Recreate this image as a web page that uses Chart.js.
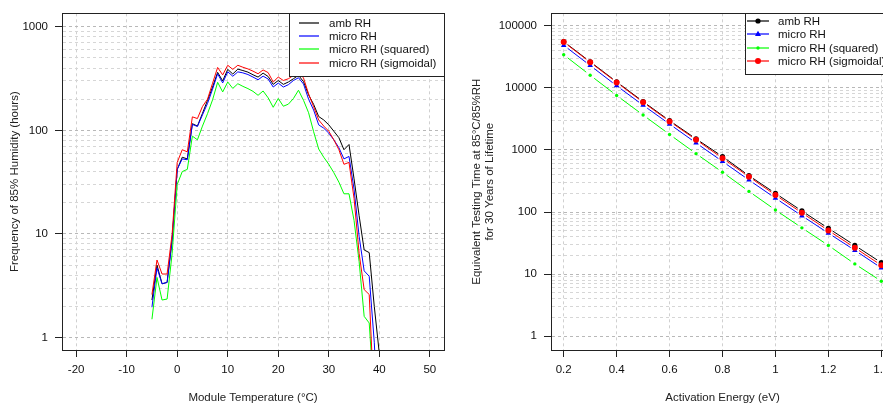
<!DOCTYPE html>
<html><head><meta charset="utf-8">
<script src="https://cdn.jsdelivr.net/npm/chart.js@4/dist/chart.umd.min.js"></script>
<style>
html,body{margin:0;padding:0;background:#fff;overflow:hidden;width:883px;height:407px;}
#wrap{position:relative;width:883px;height:407px;overflow:hidden;background:#fff;}
#c1{position:absolute;left:0;top:0;}
#c2{position:absolute;left:446px;top:0;}
</style></head><body>
<div id="wrap"><canvas id="c1" width="446" height="407"></canvas><canvas id="c2" width="460" height="407"></canvas></div>
<script>
// ---------- Left panel data ----------
const tempC = [-5,-4,-3,-2,-1,0,1,2,3,4,5,6,7,8,9,10,11,12,13,14,15,16,17,18,19,20,21,22,23,24,25,26,27,28,29,30,31,32,33,34,35,36,37,38,39,40];
const ambRH =      [2.3,5.0,3.3,3.4,9.0,42,55,53,116,110,146,195,262,363,300,388,350,390,378,365,344,327,357,331,278,303,278,293,315,340,295,220,178,136,126,113,98,85,65,73,34,15,7.0,6.6,2.0,0.7];
const microRH =    [1.96,4.7,3.3,3.4,8.5,42,53,52,114,109,141,182,250,352,287,368,333,367,359,346,327,308,334,313,262,286,262,276,303,322,280,200,157,113,105,94,81,68,53,56,27,9.5,4.4,3.9,0.9,0.1];
const microRHsq =  [1.5,3.8,2.3,2.35,6.5,30,40,42,88,81,110,145,197,291,235,293,254,282,266,253,238,218,240,206,167,203,171,179,203,244,195,148,97,66,55,47,39,31.6,24.4,24.4,13.5,5.4,1.6,1.38,0.25,0.05];
const microRHsig = [2.6,5.6,4.1,4.1,10,49,65,62,135,130,170,200,285,405,343,425,388,425,407,392,373,352,383,361,293,327,303,315,339,370,320,225,169,126,110,98,81,65,47,49,22,6.5,2.9,2.6,0.22,0.05];
const tempTicks = [-20,-10,0,10,20,30,40,50];

// ---------- Right panel data ----------
const activationEnergy = [0.2,0.3,0.4,0.5,0.6,0.7,0.8,0.9,1.0,1.1,1.2,1.3,1.4];
const ttAmb = [55500,26300,12500,6000,2960,1510,782,385,200,104,54.8,29,15.3];
const ttMicro = [48400,22900,10800,5250,2610,1297,652,328,167,87,45.7,24.2,12.6];
const ttMicroSq = [34100,15960,7540,3650,1775,871,438,215,108,55.6,29,14.6,7.7];
const ttMicroSig = [54600,25800,12240,5850,2880,1462,735,370,188,97,50.5,26.6,13.9];
const energyTicks = [0.2,0.4,0.6,0.8,1.0,1.2,1.4];

const seriesLabels = ['amb RH','micro RH','micro RH (squared)','micro RH (sigmoidal)'];
const seriesColors = ['#000000','#0000ff','#00ff00','#ff0000'];

// ---------- helpers ----------
const FONT = '"Liberation Sans", Arial, sans-serif';
const fontObj = {family: FONT, size: 11.5, lineHeight: 1.1};
function isDecade(v){ const l = Math.log10(v); return Math.abs(l - Math.round(l)) < 1e-9; }
function logTickValues(maxExp){
  const out = [];
  for (let k = 0; k < maxExp; k++) for (let m = 1; m <= 9; m++) out.push(m * Math.pow(10, k));
  out.push(Math.pow(10, maxExp));
  return out;
}
const pairs = (xs, ys) => xs.map((x, i) => ({x: x, y: ys[i]}));

const boxLegend = {
  id: 'boxLegend',
  afterDatasetsDraw(chart, args, o) {
    const ctx = chart.ctx, a = chart.chartArea;
    ctx.save();
    ctx.strokeStyle = '#222'; ctx.lineWidth = 1; ctx.setLineDash([]);
    const L = Math.round(a.left), T = Math.round(a.top), R = Math.round(a.right), B = Math.round(a.bottom);
    ctx.strokeRect(L + 0.5, T + 0.5, R - L, B - T);
    const x0 = Math.round(o.x);
    ctx.fillStyle = '#fff';
    ctx.fillRect(x0, T, R - x0, o.bottom - T);
    ctx.strokeStyle = '#222';
    ctx.strokeRect(x0 + 0.5, T + 0.5, R - x0, Math.round(o.bottom - T));
    ctx.font = '11.5px ' + FONT;
    ctx.textBaseline = 'middle'; ctx.textAlign = 'left';
    chart.data.datasets.forEach((ds, i) => {
      const y = Math.round(o.firstRow + i * o.rowGap);
      ctx.save();
      ctx.strokeStyle = ds.borderColor; ctx.lineWidth = 1.2;
      ctx.beginPath(); ctx.moveTo(o.lineX0, y); ctx.lineTo(o.lineX1, y); ctx.stroke();
      ctx.restore();
      if (o.points) {
        const cx = (o.lineX0 + o.lineX1) / 2, r = ds.pointRadius;
        ctx.fillStyle = ds.borderColor;
        ctx.beginPath();
        if (ds.pointStyle === 'triangle') {
          ctx.moveTo(cx, y - r); ctx.lineTo(cx + r * 0.95, y + r * 0.6); ctx.lineTo(cx - r * 0.95, y + r * 0.6); ctx.closePath();
        } else {
          ctx.arc(cx, y, r, 0, Math.PI * 2);
        }
        ctx.fill();
      }
      ctx.fillStyle = '#111';
      ctx.fillText(ds.label, o.textX, y + 0.5);
    });
    ctx.restore();
  }
};

function yAxis(min, max, maxExp, width, titleText, titlePad){
  return {
    type: 'logarithmic', min: min, max: max,
    afterBuildTicks: s => { s.ticks = logTickValues(maxExp).map(v => ({value: v})); },
    afterFit: s => { s.width = width; },
    ticks: {autoSkip: false, padding: 7, color: '#111', font: fontObj,
            callback: v => isDecade(v) ? String(v) : ''},
    grid: {color: c => (c.tick && isDecade(c.tick.value)) ? '#b8b8b8' : '#d6d6d6',
           tickColor: c => (c.tick && isDecade(c.tick.value)) ? '#222' : 'rgba(0,0,0,0)',
           tickLength: 7, lineWidth: 1, tickWidth: 1},
    border: {display: true, color: '#222', width: 1, dash: [3, 3]},
    title: {display: true, text: titleText, color: '#222', font: fontObj, padding: {top: titlePad, bottom: 0}}
  };
}
function xAxis(min, max, tickVals, titleText){
  return {
    type: 'linear', min: min, max: max,
    afterBuildTicks: s => { s.ticks = tickVals.map(v => ({value: v})); },
    afterFit: s => { s.height = 57; },
    ticks: {autoSkip: false, maxRotation: 0, padding: 7, color: '#111', font: fontObj,
            callback: v => String(v)},
    grid: {color: '#d0d0d0', tickColor: '#222', tickLength: 7, lineWidth: 1},
    border: {display: true, color: '#222', width: 1, dash: [3, 3]},
    title: {display: true, text: titleText, color: '#222', font: fontObj, padding: {top: 0, bottom: 3}}
  };
}

// ---------- Left chart ----------
const leftSeries = [ambRH, microRH, microRHsq, microRHsig];
new Chart(document.getElementById('c1'), {
  type: 'line',
  data: {
    datasets: leftSeries.map((ys, i) => ({
      label: seriesLabels[i], data: pairs(tempC, ys),
      borderColor: seriesColors[i], backgroundColor: seriesColors[i],
      borderWidth: 1, pointRadius: 0, tension: 0, fill: false, order: 4 - i
    }))
  },
  options: {
    responsive: false, animation: false, devicePixelRatio: 1,
    layout: {padding: {top: 8, right: 2, bottom: 0, left: 0}},
    plugins: {legend: {display: false}, tooltip: {enabled: false},
      boxLegend: {x: 289, bottom: 76, firstRow: 22.5, rowGap: 13.4, lineX0: 299, lineX1: 319, textX: 329, points: false}},
    scales: {
      x: xAxis(-22.8, 52.8, tempTicks, 'Module Temperature (°C)'),
      y: yAxis(0.757, 1349, 3, 62, 'Frequency of 85% Humidity (hours)', 8.5)
    }
  },
  plugins: [boxLegend]
});

// ---------- Right chart ----------
const rightSeries = [ttAmb, ttMicro, ttMicroSq, ttMicroSig];
const pStyles = ['circle', 'triangle', 'circle', 'circle'];
const pRadius = [2.6, 3.2, 1.7, 3.0];
const gapSegment = {
  borderDash: c => {
    const L = Math.hypot(c.p1.x - c.p0.x, c.p1.y - c.p0.y), g = 5;
    return L > 2 * g ? [0, g, L - 2 * g, g + 1000] : [0, L + 1000];
  },
  borderDashOffset: c => c.p0DataIndex * 1e-4
};
new Chart(document.getElementById('c2'), {
  type: 'line',
  data: {
    datasets: rightSeries.map((ys, i) => ({
      label: seriesLabels[i], data: pairs(activationEnergy, ys),
      borderColor: seriesColors[i], backgroundColor: seriesColors[i],
      pointBackgroundColor: seriesColors[i], pointBorderColor: seriesColors[i],
      borderWidth: 1, pointRadius: pRadius[i], pointBorderWidth: 0, pointStyle: pStyles[i],
      tension: 0, fill: false, order: 4 - i, segment: gapSegment
    }))
  },
  options: {
    responsive: false, animation: false, devicePixelRatio: 1,
    layout: {padding: {top: 7, right: 12, bottom: 0, left: 0}},
    plugins: {legend: {display: false}, tooltip: {enabled: false},
      boxLegend: {x: 299, bottom: 74, firstRow: 20.7, rowGap: 13.5, lineX0: 301, lineX1: 323, textX: 332, points: true}},
    scales: {
      x: xAxis(0.152, 1.448, energyTicks, 'Activation Energy (eV)'),
      y: yAxis(Math.pow(10, -0.2), Math.pow(10, 5.2), 5, 105,
               ['Equivalent Testing Time at 85°C/85%RH', 'for 30 Years of Lifetime'], 25)
    }
  },
  plugins: [boxLegend]
});
</script>
</body></html>
